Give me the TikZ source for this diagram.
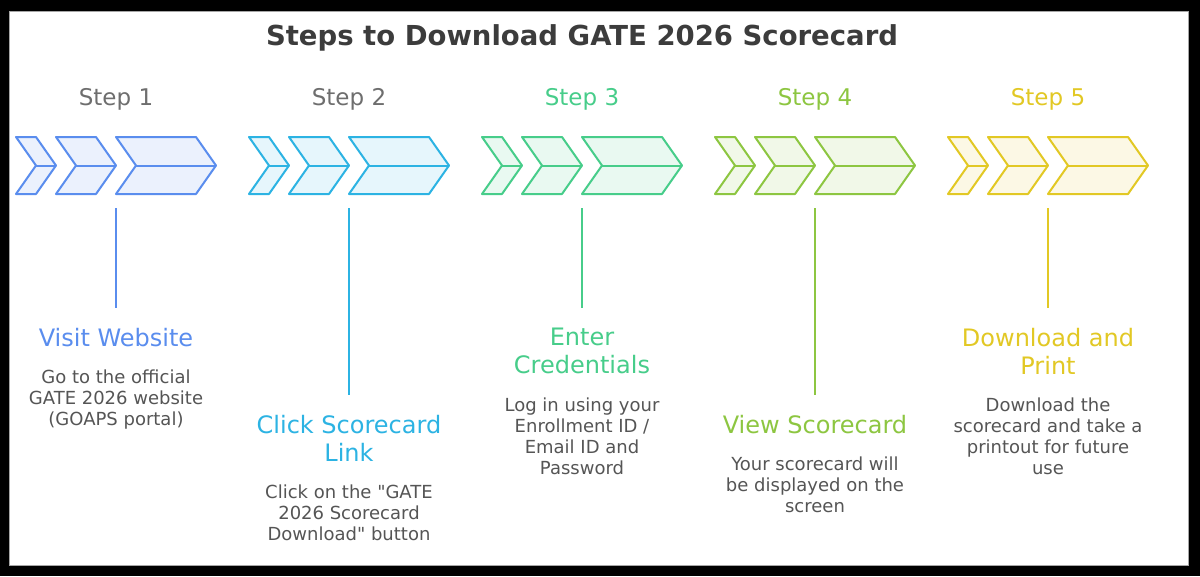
\documentclass[tikz,border=0pt]{standalone}
\usepackage{fontspec}
\setmainfont{DejaVu Sans}
\usepackage{tikz}
\usetikzlibrary{positioning,calc}
\definecolor{stepone}{HTML}{5A8DEE}
\definecolor{steptwo}{HTML}{2CB3E3}
\definecolor{stepthree}{HTML}{47CD8A}
\definecolor{stepfour}{HTML}{8DC641}
\definecolor{stepfive}{HTML}{E2C824}
\definecolor{titlegray}{HTML}{3C3C3C}
\definecolor{labelgray}{HTML}{6E6E6E}
\definecolor{descgray}{HTML}{555555}
\tikzset{
  chevbox/.style={draw=#1, fill=#1!12, line width=2pt, line join=round},
  stem/.style={draw=#1, line width=2pt},
  doctitle/.style={text=titlegray, font=\fontsize{27.5}{32}\selectfont\bfseries,
    anchor=base, inner sep=0pt},
  steplabel/.style={text=#1, font=\fontsize{23}{28}\selectfont,
    anchor=base, inner sep=0pt},
  stephead/.style={text=#1, font=\fontsize{24}{28}\selectfont, align=center,
    inner sep=0pt},
  stepdesc/.style={text=descgray, font=\fontsize{18}{21}\selectfont,
    align=center, inner sep=0pt},
}
\newcommand{\chevrow}[3]{%
  \begin{scope}[shift={(#1,-165.5)}]
    \foreach \lft/\tip in {-100/-60, -60/0, 0/100}{
      \filldraw[chevbox=#2] (\lft,28.5) -- ({\tip-20},28.5) -- (\tip,0)
        -- ({\tip-20},-28.5) -- (\lft,-28.5) -- ({\lft+20},0) -- cycle;
      \draw[chevbox=#2] ({\lft+20},0) -- (\tip,0);
    }
    \coordinate (#3) at (0,-42.5);
  \end{scope}
}
\begin{document}
\begin{tikzpicture}[x=1pt, y=1pt]
\useasboundingbox (0,0) rectangle (1200,-576);

%% ── Frame ────────────────────────────────────────────────────────────────
\fill[black] (0,0) rectangle (1200,-576);
\filldraw[fill=white, draw=gray!70, line width=0.8pt] (9,-11) rectangle (1188,-565);

\node[doctitle] (title) at (582,-45) {Steps to Download GATE 2026 Scorecard};

%% ── Step 1 ───────────────────────────────────────────────────────────────
\node[steplabel=labelgray] (lab1) at (116,-105.5) {Step 1};
\chevrow{116}{stepone}{top1}
\coordinate (end1) at (116,-308);
\draw[stem=stepone] (top1) -- (end1);
\node[stephead=stepone, below=20pt of end1] (head1) {Visit Website};
\node[stepdesc, below=23pt of head1] (desc1)
  {Go to the official\\GATE 2026 website\\(GOAPS portal)};

%% ── Step 2 ───────────────────────────────────────────────────────────────
\node[steplabel=labelgray] (lab2) at (349,-105.5) {Step 2};
\chevrow{349}{steptwo}{top2}
\coordinate (end2) at (349,-395);
\draw[stem=steptwo] (top2) -- (end2);
\node[stephead=steptwo, below=20pt of end2] (head2) {Click Scorecard\\Link};
\node[stepdesc, below=23pt of head2] (desc2)
  {Click on the \textquotedbl GATE\\2026 Scorecard\\Download\textquotedbl\ button};

%% ── Step 3 ───────────────────────────────────────────────────────────────
\node[steplabel=stepthree] (lab3) at (582,-105.5) {Step 3};
\chevrow{582}{stepthree}{top3}
\coordinate (end3) at (582,-308);
\draw[stem=stepthree] (top3) -- (end3);
\node[stephead=stepthree, below=20pt of end3] (head3) {Enter\\Credentials};
\node[stepdesc, below=23pt of head3] (desc3)
  {Log in using your\\Enrollment ID /\\Email ID and\\Password};

%% ── Step 4 ───────────────────────────────────────────────────────────────
\node[steplabel=stepfour] (lab4) at (815,-105.5) {Step 4};
\chevrow{815}{stepfour}{top4}
\coordinate (end4) at (815,-395);
\draw[stem=stepfour] (top4) -- (end4);
\node[stephead=stepfour, below=20pt of end4] (head4) {View Scorecard};
\node[stepdesc, below=23pt of head4] (desc4)
  {Your scorecard will\\be displayed on the\\screen};

%% ── Step 5 ───────────────────────────────────────────────────────────────
\node[steplabel=stepfive] (lab5) at (1048,-105.5) {Step 5};
\chevrow{1048}{stepfive}{top5}
\coordinate (end5) at (1048,-308);
\draw[stem=stepfive] (top5) -- (end5);
\node[stephead=stepfive, below=20pt of end5] (head5) {Download and\\Print};
\node[stepdesc, below=23pt of head5] (desc5)
  {Download the\\scorecard and take a\\printout for future\\use};

\end{tikzpicture}
\end{document}
